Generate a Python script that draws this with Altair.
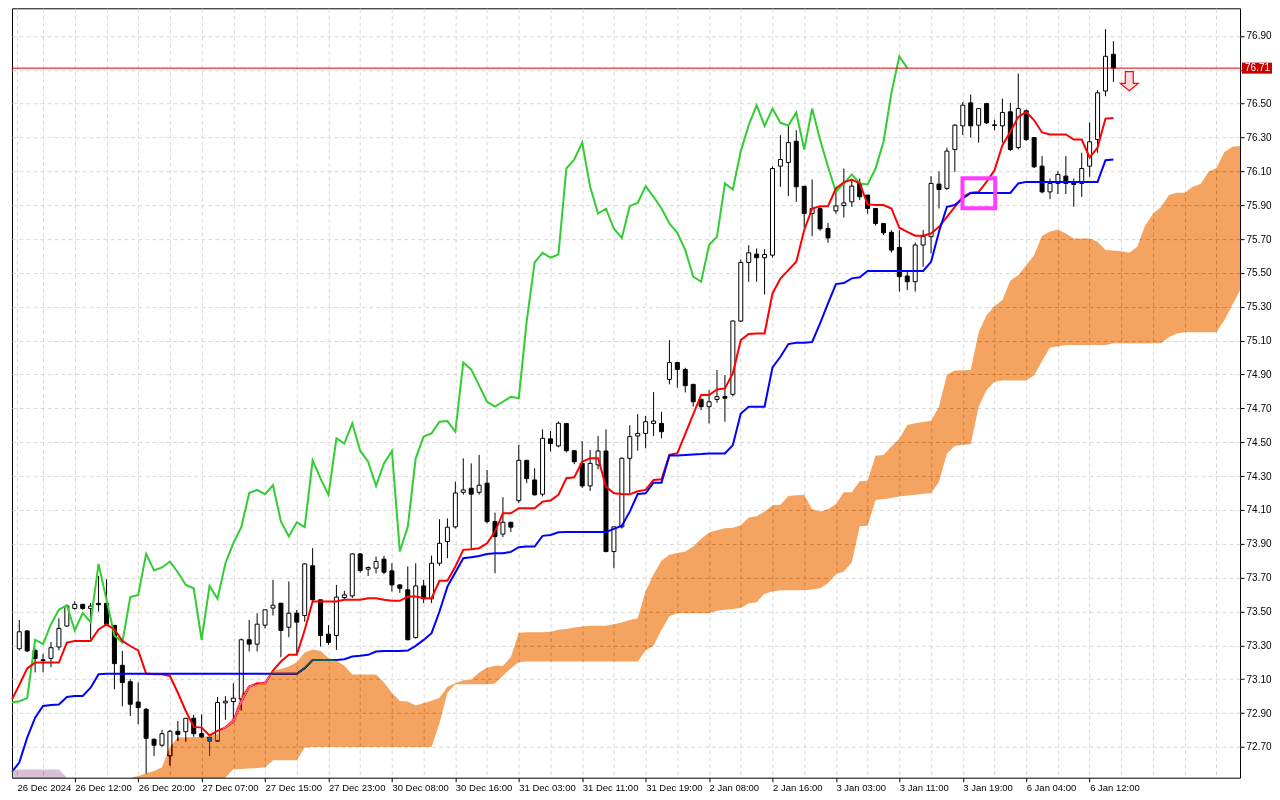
import json
import altair as alt
import pandas as pd

# ---------------- data ----------------
open_ = [73.280, 73.385, 73.270, 73.210, 73.223, 73.290, 73.414, 73.518, 73.542, 73.518,
         73.548, 73.548, 73.418, 73.182, 73.085, 72.965, 72.922, 72.745, 72.710, 72.647,
         72.792, 72.790, 72.869, 72.778, 72.755, 72.735, 72.960, 72.968, 72.982, 73.333,
         73.307, 73.419, 73.520, 73.549, 73.407, 73.490, 73.476, 73.770, 73.569, 73.366,
         73.358, 73.582, 73.592, 73.840, 73.750, 73.756, 73.809, 73.740, 73.657, 73.628,
         73.346, 73.651, 73.575, 73.785, 73.913, 74.000, 74.204, 74.228, 74.204, 74.258,
         74.031, 73.957, 74.027, 74.155, 74.393, 74.277, 74.193, 74.520, 74.478, 74.610,
         74.450, 74.375, 74.242, 74.366, 74.448, 73.854, 74.000, 74.405, 74.537, 74.552,
         74.611, 74.611, 74.871, 74.971, 74.930, 74.842, 74.753, 74.710, 74.753, 74.770,
         74.783, 75.216, 75.562, 75.611, 75.590, 75.605, 76.131, 76.153, 76.278, 76.012,
         75.851, 75.880, 75.763, 75.867, 75.898, 75.920, 76.030, 75.960, 75.881, 75.792,
         75.740, 75.651, 75.482, 75.448, 75.665, 75.714, 76.025, 76.000, 76.229, 76.369,
         76.505, 76.373, 76.501, 76.375, 76.369, 76.452, 76.241, 76.458, 76.300, 76.131,
         75.979, 76.029, 76.072, 76.035, 76.029, 76.131, 76.288, 76.575, 76.792]
high = [73.450, 73.390, 73.280, 73.250, 73.320, 73.460, 73.540, 73.560, 73.545, 73.550,
        73.710, 73.690, 73.420, 73.267, 73.100, 73.080, 72.930, 72.750, 72.800, 72.800,
        72.853, 72.870, 72.890, 72.892, 72.757, 72.995, 73.000, 73.076, 73.340, 73.450,
        73.490, 73.510, 73.687, 73.549, 73.677, 73.510, 73.785, 73.874, 73.569, 73.419,
        73.657, 73.622, 73.844, 73.845, 73.766, 73.825, 73.829, 73.785, 73.660, 73.766,
        73.785, 73.687, 73.830, 74.045, 74.050, 74.267, 74.405, 74.375, 74.425, 74.336,
        74.084, 74.175, 74.030, 74.484, 74.393, 74.346, 74.576, 74.566, 74.622, 74.615,
        74.450, 74.507, 74.454, 74.537, 74.576, 74.000, 74.410, 74.600, 74.666, 74.655,
        74.796, 74.680, 75.103, 74.975, 74.940, 74.842, 74.760, 74.808, 74.926, 74.897,
        75.220, 75.580, 75.664, 75.645, 75.640, 76.130, 76.314, 76.373, 76.343, 76.012,
        76.052, 75.894, 75.796, 76.008, 76.117, 76.048, 76.058, 75.960, 75.881, 75.795,
        75.753, 75.753, 75.517, 75.680, 75.753, 76.072, 76.100, 76.240, 76.380, 76.510,
        76.554, 76.470, 76.505, 76.406, 76.530, 76.505, 76.678, 76.466, 76.300, 76.190,
        76.058, 76.101, 76.190, 76.058, 76.210, 76.389, 76.580, 76.940, 76.869]
low = [73.270, 73.260, 73.140, 73.140, 73.170, 73.270, 73.410, 73.510, 73.510, 73.335,
       73.500, 73.420, 73.040, 72.940, 72.883, 72.834, 72.542, 72.647, 72.700, 72.590,
       72.735, 72.731, 72.760, 72.755, 72.647, 72.730, 72.860, 72.850, 72.915, 73.264,
       73.264, 73.400, 73.476, 73.230, 73.348, 73.254, 73.440, 73.550, 73.293, 73.303,
       73.273, 73.570, 73.580, 73.730, 73.710, 73.726, 73.720, 73.618, 73.610, 73.330,
       73.340, 73.550, 73.550, 73.770, 73.815, 73.990, 74.190, 73.864, 74.190, 74.020,
       73.726, 73.939, 73.970, 74.140, 74.258, 74.185, 74.180, 74.445, 74.470, 74.440,
       74.370, 74.230, 74.212, 74.340, 73.850, 73.756, 73.990, 74.200, 74.450, 74.464,
       74.537, 74.523, 74.842, 74.822, 74.794, 74.710, 74.690, 74.611, 74.733, 74.621,
       74.770, 75.210, 75.448, 75.448, 75.373, 75.590, 76.009, 75.954, 75.920, 75.768,
       75.717, 75.750, 75.678, 75.850, 75.828, 75.890, 75.930, 75.850, 75.780, 75.724,
       75.620, 75.390, 75.399, 75.390, 75.537, 75.615, 75.881, 75.990, 76.097, 76.314,
       76.300, 76.270, 76.380, 76.344, 76.270, 76.220, 76.230, 76.280, 76.120, 75.970,
       75.936, 75.966, 75.966, 75.891, 75.950, 76.068, 76.210, 76.544, 76.629]
close = [73.380, 73.267, 73.223, 73.215, 73.286, 73.400, 73.532, 73.542, 73.518, 73.532,
         73.540, 73.424, 73.192, 73.080, 72.952, 72.932, 72.751, 72.710, 72.778, 72.792,
         72.774, 72.869, 72.778, 72.760, 72.735, 72.962, 72.970, 72.988, 73.333, 73.307,
         73.425, 73.510, 73.537, 73.388, 73.490, 73.437, 73.781, 73.569, 73.358, 73.317,
         73.585, 73.598, 73.840, 73.742, 73.760, 73.795, 73.732, 73.657, 73.637, 73.333,
         73.651, 73.575, 73.785, 73.903, 73.998, 74.200, 74.218, 74.193, 74.246, 74.031,
         73.943, 74.027, 73.998, 74.393, 74.285, 74.189, 74.523, 74.492, 74.612, 74.450,
         74.385, 74.242, 74.375, 74.448, 73.854, 74.000, 74.405, 74.533, 74.552, 74.621,
         74.625, 74.562, 74.971, 74.930, 74.834, 74.739, 74.710, 74.739, 74.769, 74.760,
         75.216, 75.562, 75.619, 75.590, 75.609, 76.117, 76.170, 76.270, 76.009, 75.851,
         75.880, 75.761, 75.707, 75.896, 75.914, 76.013, 75.950, 75.881, 75.792, 75.737,
         75.635, 75.478, 75.448, 75.665, 75.715, 76.029, 75.993, 76.220, 76.373, 76.491,
         76.369, 76.471, 76.387, 76.371, 76.448, 76.229, 76.471, 76.288, 76.127, 75.979,
         76.029, 76.082, 76.029, 76.023, 76.117, 76.275, 76.564, 76.780, 76.710]

# Tenkan-sen and Kijun-sen, bar -1 .. 138
tenkan = [72.981, 73.066, 73.164, 73.198, 73.198, 73.198, 73.198, 73.316, 73.326, 73.326,
          73.326, 73.394, 73.424, 73.394, 73.326, 73.296, 73.270, 73.133, 73.129, 73.129,
          73.119, 73.020, 72.912, 72.818, 72.814, 72.768, 72.795, 72.815, 72.850, 72.968,
          73.057, 73.076, 73.076, 73.151, 73.204, 73.244, 73.244, 73.391, 73.559, 73.559,
          73.559, 73.559, 73.569, 73.569, 73.569, 73.578, 73.578, 73.569, 73.563, 73.563,
          73.588, 73.588, 73.578, 73.578, 73.681, 73.681, 73.766, 73.864, 73.868, 73.874,
          73.903, 73.972, 74.080, 74.080, 74.110, 74.110, 74.110, 74.149, 74.155, 74.189,
          74.287, 74.293, 74.385, 74.405, 74.405, 74.238, 74.198, 74.194, 74.192, 74.210,
          74.218, 74.277, 74.281, 74.425, 74.435, 74.550, 74.665, 74.779, 74.779, 74.812,
          74.818, 74.907, 75.103, 75.139, 75.143, 75.143, 75.379, 75.467, 75.517, 75.566,
          75.753, 75.881, 75.894, 75.894, 75.999, 76.035, 76.052, 76.029, 75.905, 75.901,
          75.901, 75.881, 75.767, 75.743, 75.720, 75.720, 75.733, 75.773, 75.832, 75.891,
          75.950, 75.974, 75.979, 76.038, 76.107, 76.255, 76.334, 76.422, 76.452, 76.402,
          76.330, 76.318, 76.318, 76.318, 76.288, 76.288, 76.182, 76.241, 76.412, 76.416]
kijun = [72.554, 72.607, 72.755, 72.873, 72.942, 72.948, 72.951, 72.995, 73.001, 73.001,
         73.050, 73.129, 73.132, 73.132, 73.132, 73.132, 73.132, 73.132, 73.132, 73.132,
         73.132, 73.132, 73.132, 73.132, 73.132, 73.132, 73.132, 73.132, 73.132, 73.132,
         73.132, 73.132, 73.132, 73.132, 73.132, 73.132, 73.132, 73.165, 73.214, 73.214,
         73.214, 73.214, 73.218, 73.234, 73.238, 73.244, 73.263, 73.267, 73.267, 73.267,
         73.269, 73.297, 73.332, 73.372, 73.500, 73.647, 73.730, 73.815, 73.821, 73.828,
         73.840, 73.844, 73.844, 73.852, 73.880, 73.884, 73.884, 73.947, 73.952, 73.968,
         73.970, 73.970, 73.970, 73.970, 73.970, 73.970, 73.988, 74.007, 74.090, 74.194,
         74.198, 74.261, 74.261, 74.421, 74.422, 74.425, 74.428, 74.430, 74.434, 74.434,
         74.434, 74.483, 74.670, 74.710, 74.710, 74.710, 74.942, 75.005, 75.080, 75.088,
         75.088, 75.092, 75.202, 75.320, 75.434, 75.440, 75.468, 75.474, 75.512, 75.512,
         75.512, 75.512, 75.512, 75.512, 75.512, 75.512, 75.566, 75.743, 75.891, 75.901,
         75.940, 75.973, 75.973, 75.973, 75.973, 75.973, 75.973, 76.029, 76.038, 76.038,
         76.038, 76.038, 76.038, 76.038, 76.038, 76.038, 76.038, 76.038, 76.166, 76.170]

# Senkou span A (upper edge of the sandy cloud) and B, bar -1 .. 154
span_a = [72.40, 72.40, 72.40, 72.40, 72.40, 72.40, 72.40, 72.40, 72.40, 72.40,
          72.40, 72.40, 72.40, 72.42, 72.49, 72.515, 72.528, 72.545, 72.558, 72.58,
          72.70, 72.755, 72.757, 72.758, 72.759, 72.765, 72.775, 72.825, 72.873, 73.01,
          73.065, 73.07, 73.09, 73.15, 73.16, 73.175, 73.20, 73.257, 73.275, 73.267,
          73.225, 73.21, 73.18, 73.128, 73.128, 73.128, 73.128, 73.08, 73.02, 72.971,
          72.968, 72.945, 72.96, 72.972, 72.99, 73.055, 73.076, 73.094, 73.096, 73.14,
          73.168, 73.18, 73.18, 73.23, 73.375, 73.378, 73.378, 73.378, 73.38, 73.392,
          73.397, 73.405, 73.412, 73.415, 73.415, 73.415, 73.425, 73.435, 73.45, 73.46,
          73.62, 73.72, 73.80, 73.835, 73.845, 73.855, 73.884, 73.93, 73.966, 73.98,
          73.992, 73.995, 74.01, 74.055, 74.062, 74.09, 74.128, 74.13, 74.183, 74.187,
          74.189, 74.104, 74.09, 74.104, 74.135, 74.204, 74.205, 74.27, 74.273, 74.42,
          74.425, 74.474, 74.52, 74.602, 74.612, 74.62, 74.627, 74.71, 74.90, 74.923,
          74.925, 74.927, 75.15, 75.25, 75.304, 75.34, 75.455, 75.487, 75.546, 75.605,
          75.72, 75.745, 75.757, 75.733, 75.704, 75.704, 75.704, 75.684, 75.635, 75.632,
          75.628, 75.619, 75.655, 75.78, 75.85, 75.89, 75.96, 75.974, 75.974, 76.01,
          76.025, 76.098, 76.12, 76.215, 76.245, 76.25]
span_b = [72.567, 72.567, 72.567, 72.567, 72.567, 72.567, 72.567, 72.40, 72.40, 72.40,
          72.40, 72.40, 72.40, 72.40, 72.40, 72.40, 72.40, 72.40, 72.40, 72.40,
          72.40, 72.40, 72.40, 72.40, 72.40, 72.40, 72.40, 72.45, 72.568, 72.57,
          72.572, 72.575, 72.578, 72.621, 72.621, 72.621, 72.621, 72.696, 72.70, 72.70,
          72.70, 72.70, 72.70, 72.70, 72.70, 72.70, 72.70, 72.70, 72.70, 72.70,
          72.70, 72.70, 72.70, 72.70, 72.84, 73.02, 73.07, 73.07, 73.07, 73.07,
          73.07, 73.075, 73.12, 73.164, 73.20, 73.205, 73.205, 73.205, 73.205, 73.205,
          73.205, 73.205, 73.205, 73.205, 73.205, 73.205, 73.205, 73.205, 73.205, 73.205,
          73.27, 73.297, 73.39, 73.472, 73.49, 73.49, 73.49, 73.49, 73.49, 73.505,
          73.51, 73.515, 73.52, 73.549, 73.555, 73.605, 73.618, 73.625, 73.625, 73.625,
          73.625, 73.63, 73.638, 73.667, 73.72, 73.736, 73.79, 74.003, 74.006, 74.159,
          74.165, 74.17, 74.18, 74.185, 74.19, 74.195, 74.198, 74.265, 74.434, 74.478,
          74.485, 74.488, 74.71, 74.808, 74.857, 74.865, 74.865, 74.865, 74.865, 74.895,
          74.98, 75.06, 75.065, 75.074, 75.074, 75.074, 75.074, 75.074, 75.074, 75.084,
          75.084, 75.084, 75.084, 75.084, 75.084, 75.084, 75.12, 75.143, 75.15, 75.15,
          75.15, 75.15, 75.15, 75.222, 75.31, 75.40]

time_label_bars = [7, 15, 23, 31, 39, 47, 55, 63, 71, 79, 87, 95, 103, 111, 119, 127, 135]
time_labels = ["26 Dec 12:00", "26 Dec 20:00", "27 Dec 07:00", "27 Dec 15:00", "27 Dec 23:00",
               "30 Dec 08:00", "30 Dec 16:00", "31 Dec 03:00", "31 Dec 11:00", "31 Dec 19:00",
               "2 Jan 08:00", "2 Jan 16:00", "3 Jan 03:00", "3 Jan 11:00", "3 Jan 19:00",
               "6 Jan 04:00", "6 Jan 12:00"]
first_label = "26 Dec 2024"
price_ticks = [72.7, 72.9, 73.1, 73.3, 73.5, 73.7, 73.9, 74.1, 74.3, 74.5, 74.7,
               74.9, 75.1, 75.3, 75.5, 75.7, 75.9, 76.1, 76.3, 76.5, 76.7, 76.9]
last_price = [76.71]
box_bars = [118.96, 123.09]
box_prices = [75.882, 76.060]
arrow_bar = [140]
arrow_price = [76.633]

# ---------------- layout ----------------
X_MIN, X_MAX = -0.2875, 153.3375
Y_MIN, Y_MAX = 72.518, 77.0635
W, H = 1229, 770
FONT = "Liberation Sans"

xs = alt.Scale(domain=[X_MIN, X_MAX], nice=False, zero=False, clamp=True)
ys = alt.Scale(domain=[Y_MIN, Y_MAX], nice=False, zero=False, clamp=True)

grid_bars = [X_MIN] + list(range(3, 152, 4))
last_lab = time_label_bars[-1]
label_expr = ("datum.value < 0 ? '" + first_label + "' : ((datum.value + 1) % 8 == 0 && datum.value <= "
              + str(last_lab) + " ? " + json.dumps(time_labels) + "[(datum.value - 7) / 8] : '')")

x_axis = alt.Axis(values=grid_bars, labelExpr=label_expr, grid=True, gridDash=[4, 3],
                  gridColor="#d9d9d9", gridWidth=1, domain=False, ticks=True, tickSize=4,
                  tickColor="black",
                  tickOpacity={"condition": {"test": "(datum.value + 1) % 8 == 0 && datum.value <= "
                                             + str(last_lab), "value": 1}, "value": 0},
                  labelAlign="left", labelPadding=1, labelFont=FONT, labelFontSize=9.5,
                  labelColor="black", labelOverlap=False, labelFlush=False, labelBound=False,
                  title=None)
y_axis = alt.Axis(orient="right", values=price_ticks,
                  labelExpr="abs(datum.value - 76.7) < 0.001 ? '' : format(datum.value, '.2f')",
                  grid=True, gridDash=[4, 3], gridColor="#d9d9d9", gridWidth=1, domain=False,
                  tickSize=4, tickColor="black", labelPadding=2, labelFont=FONT, labelFontSize=10,
                  labelColor="black", labelOverlap=False, labelFlush=False, title=None)


def X(f):
    return alt.X(f, type="quantitative", scale=xs, axis=x_axis, title=None)


def Y(f):
    return alt.Y(f, type="quantitative", scale=ys, axis=y_axis, title=None)


candles = pd.DataFrame({"i": list(range(len(close))), "open": open_, "high": high,
                        "low": low, "close": close})
candles["top"] = candles[["open", "close"]].max(axis=1)
candles["bot"] = candles[["open", "close"]].min(axis=1)
candles["dir"] = ["up" if c >= o else "down" for o, c in zip(open_, close)]

tenkan_df = pd.DataFrame({"i": list(range(-1, -1 + len(tenkan))), "v": tenkan})
kijun_df = pd.DataFrame({"i": list(range(-1, -1 + len(kijun))), "v": kijun})
chikou_vals = close[25:]
chikou_df = pd.DataFrame({"i": list(range(-1, -1 + len(chikou_vals))), "v": chikou_vals})

cloud = pd.DataFrame({"i": list(range(-1, -1 + len(span_a))), "a": span_a, "b": span_b})
cloud["lo"] = cloud[["a", "b"]].min(axis=1)

wicks = alt.Chart(candles).mark_rule(color="black", strokeWidth=1).encode(
    x=X("i"), y=Y("low"), y2="high")
bodies = alt.Chart(candles).mark_bar(size=4, stroke="black", strokeWidth=1).encode(
    x=X("i"), y=Y("bot"), y2="top",
    fill=alt.Fill("dir:N", scale=alt.Scale(domain=["up", "down"], range=["white", "black"]),
                  legend=None))

chikou_line = alt.Chart(chikou_df).mark_line(color="#32cd32", strokeWidth=2).encode(
    x=X("i"), y=Y("v"))
tenkan_line = alt.Chart(tenkan_df).mark_line(color="#ff0000", strokeWidth=2).encode(
    x=X("i"), y=Y("v"))
kijun_line = alt.Chart(kijun_df).mark_line(color="#0000ff", strokeWidth=2).encode(
    x=X("i"), y=Y("v"))

price_line = alt.Chart(pd.DataFrame({"v": last_price})).mark_rule(
    color="#dd0000", strokeWidth=1).encode(y=Y("v"))

# cloud drawn with difference blending (like the platform's XOR fill)
cloud_up = alt.Chart(cloud).mark_area(color="#0b5b9f", blend="difference",
                                      interpolate="linear").encode(
    x=X("i"), y=Y("a"), y2="lo")
cloud_dn = alt.Chart(cloud).mark_area(color="#274027", blend="difference",
                                      interpolate="linear").encode(
    x=X("i"), y=Y("b"), y2="lo")

box = alt.Chart(pd.DataFrame({"x1": [box_bars[0]], "x2": [box_bars[1]],
                              "y1": [box_prices[0]], "y2": [box_prices[1]]})).mark_rect(
    fillOpacity=0, stroke="#ff3cff", strokeWidth=4).encode(
    x=X("x1"), x2="x2", y=Y("y1"), y2="y2")

arrow_path = "M -0.42 -1 L 0.42 -1 L 0.42 0.24 L 0.95 0.24 L 0 1 L -0.95 0.24 L -0.42 0.24 Z"
arrow = alt.Chart(pd.DataFrame({"i": arrow_bar, "v": arrow_price})).mark_point(
    shape=arrow_path, size=361, filled=True, fill="#ffd9e0", stroke="#ff0000",
    strokeWidth=1.2, opacity=1).encode(x=X("i"), y=Y("v"))

tag_path = "M -1 -0.367 L 1 -0.367 L 1 0.367 L -1 0.367 Z"
tag = alt.Chart(pd.DataFrame({"v": last_price})).mark_point(
    shape=tag_path, size=900, filled=True, fill="#c80000", strokeWidth=0, opacity=1,
    clip=False).encode(x=alt.value(W + 17), y=Y("v"))
tag_text = alt.Chart(pd.DataFrame({"v": last_price, "t": ["76.71"]})).mark_text(
    align="left", baseline="middle", color="white", font=FONT, fontSize=10,
    clip=False).encode(x=alt.value(W + 5), y=Y("v"), text="t:N")

chart = alt.layer(
    wicks, bodies, chikou_line, tenkan_line, kijun_line, price_line,
    cloud_up, cloud_dn, box, arrow, tag, tag_text
).properties(width=W, height=H, padding=0, background="white").configure_view(
    stroke="black", strokeWidth=1)

chart.save("out.html", embed_options={"renderer": "svg", "actions": False})
